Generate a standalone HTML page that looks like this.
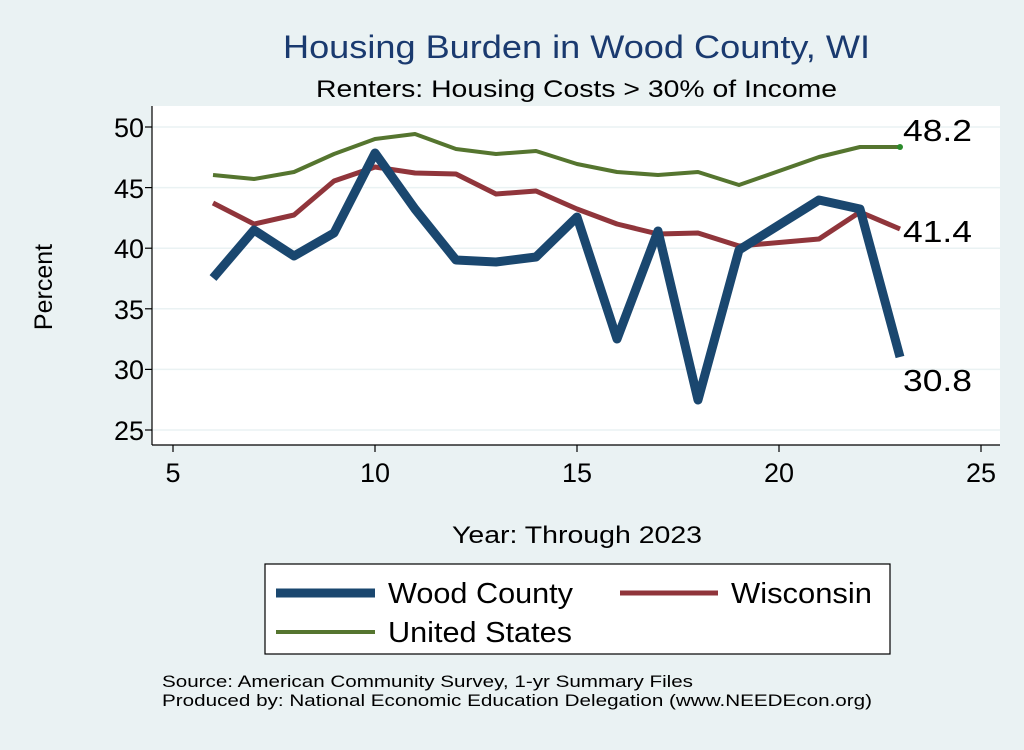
<!DOCTYPE html>
<html><head><meta charset="utf-8"><style>body{margin:0;background:#eaf2f3}</style></head><body>
<svg width="1024" height="745" xmlns="http://www.w3.org/2000/svg" font-family="Liberation Sans, sans-serif">
<rect width="1024" height="745" fill="#eaf2f3"/>
<text x="283" y="58" font-size="32" fill="#1a3a6f" textLength="587" lengthAdjust="spacingAndGlyphs">Housing Burden in Wood County, WI</text>
<text x="316" y="97" font-size="24" textLength="521" lengthAdjust="spacingAndGlyphs">Renters: Housing Costs &gt; 30% of Income</text>
<rect x="152" y="106" width="848" height="339" fill="#fff"/>
<g stroke="#eaf2f3" stroke-width="1.5">
<line x1="152" x2="1000" y1="127" y2="127"/><line x1="152" x2="1000" y1="187.6" y2="187.6"/>
<line x1="152" x2="1000" y1="248.2" y2="248.2"/><line x1="152" x2="1000" y1="308.8" y2="308.8"/>
<line x1="152" x2="1000" y1="369.4" y2="369.4"/><line x1="152" x2="1000" y1="430" y2="430"/>
</g>
<g stroke="#000" stroke-width="1.2">
<line x1="152" y1="106" x2="152" y2="445"/><line x1="152" y1="445" x2="1000" y2="445"/>
<line x1="145" x2="152" y1="127" y2="127"/><line x1="145" x2="152" y1="187.6" y2="187.6"/><line x1="145" x2="152" y1="248.2" y2="248.2"/><line x1="145" x2="152" y1="308.8" y2="308.8"/><line x1="145" x2="152" y1="369.4" y2="369.4"/><line x1="145" x2="152" y1="430" y2="430"/>
<line x1="173" x2="173" y1="445" y2="452"/><line x1="375" x2="375" y1="445" y2="452"/><line x1="577" x2="577" y1="445" y2="452"/><line x1="779" x2="779" y1="445" y2="452"/><line x1="981" x2="981" y1="445" y2="452"/>
</g>
<g font-size="27" text-anchor="end">
<text x="144" y="137">50</text><text x="144" y="198">45</text><text x="144" y="258">40</text><text x="144" y="319">35</text><text x="144" y="379">30</text><text x="144" y="440">25</text>
</g>
<g font-size="27" text-anchor="middle">
<text x="173" y="482">5</text><text x="375" y="482">10</text><text x="577" y="482">15</text><text x="779" y="482">20</text><text x="981" y="482">25</text>
</g>
<text x="452" y="543" font-size="24" textLength="250" lengthAdjust="spacingAndGlyphs">Year: Through 2023</text>
<text transform="translate(52,287) rotate(-90)" font-size="25" text-anchor="middle">Percent</text>
<polyline fill="none" stroke="#55752f" stroke-width="4" stroke-linejoin="round" points="213,175 254,179 294,172 334,154 375,139 415,134 456,149 496,154 536,151 577,164 617,172 658,175 698,172 739,185 819,157 860,147 900,147"/>
<circle cx="900" cy="147" r="3" fill="#2a8a2a"/>
<polyline fill="none" stroke="#90353b" stroke-width="5" stroke-linejoin="round" points="213,203 254,224 294,215 334,181 375,167 415,173 456,174 496,194 536,191 577,209 617,224 658,234 698,233 739,246 819,239 860,212 900,229"/>
<polyline fill="none" stroke="#1a476f" stroke-width="9" stroke-linejoin="round" points="213,278 254,230 294,256 334,233 375,153 415,209 456,260 496,262 536,257 577,217 617,339 658,231 698,400 739,250 819,200 860,209 900,357"/>
<g font-size="31"><text x="903" y="141" textLength="69" lengthAdjust="spacingAndGlyphs">48.2</text><text x="903" y="242" textLength="69" lengthAdjust="spacingAndGlyphs">41.4</text><text x="903" y="391" textLength="69" lengthAdjust="spacingAndGlyphs">30.8</text></g>
<rect x="265" y="564" width="625" height="90" fill="#fff" stroke="#000" stroke-width="1.2"/>
<line x1="276" x2="375" y1="593" y2="593" stroke="#1a476f" stroke-width="9"/>
<text x="388" y="603" font-size="29" textLength="185" lengthAdjust="spacingAndGlyphs">Wood County</text>
<line x1="620" x2="718" y1="593" y2="593" stroke="#90353b" stroke-width="5"/>
<text x="731" y="603" font-size="29" textLength="141" lengthAdjust="spacingAndGlyphs">Wisconsin</text>
<line x1="276" x2="375" y1="632" y2="632" stroke="#55752f" stroke-width="4"/>
<text x="388" y="642" font-size="29" textLength="184" lengthAdjust="spacingAndGlyphs">United States</text>
<text x="162" y="687" font-size="17" textLength="531" lengthAdjust="spacingAndGlyphs">Source: American Community Survey, 1-yr Summary Files</text>
<text x="162" y="706" font-size="17" textLength="710" lengthAdjust="spacingAndGlyphs">Produced by: National Economic Education Delegation (www.NEEDEcon.org)</text>
</svg>
</body></html>
